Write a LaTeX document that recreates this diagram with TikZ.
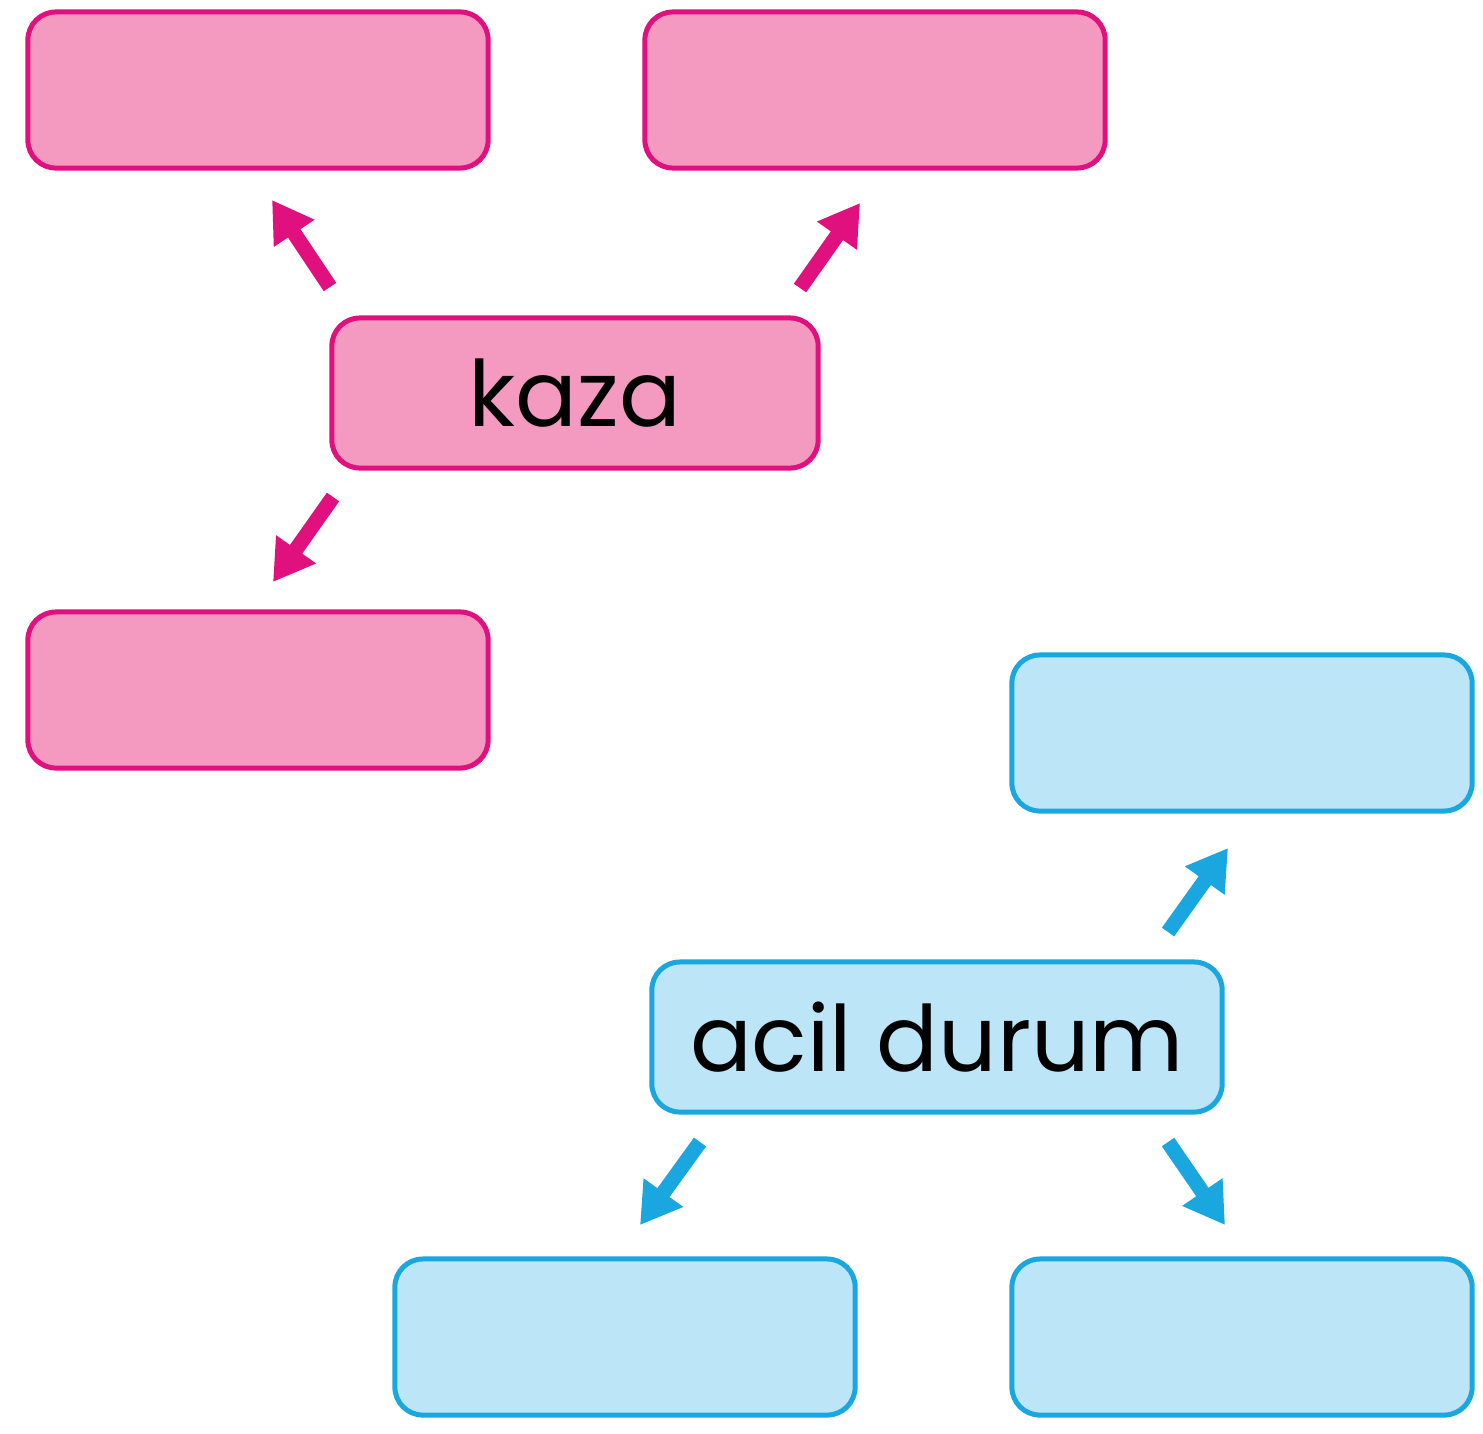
\documentclass[tikz,border=0pt]{standalone}
\usepackage{fontspec}
\setmainfont{Poppins}
\usetikzlibrary{arrows.meta}
\definecolor{pinkfill}{HTML}{F49AC1}
\definecolor{pinkline}{HTML}{E0117F}
\definecolor{bluefill}{HTML}{BDE5F8}
\definecolor{blueline}{HTML}{1AA7DF}
\tikzset{
  pinkbox/.style={draw=pinkline, fill=pinkfill, line width=0.05cm, rounded corners=0.28cm, inner sep=0pt},
  bluebox/.style={draw=bluefill!0!blueline, fill=bluefill, line width=0.05cm, rounded corners=0.28cm, inner sep=0pt},
  smallbox/.style={minimum width=4.6cm, minimum height=1.56cm},
  lbl/.style={font=\fontsize{26}{30}\selectfont, text=black},
  pinkarrow/.style={draw=pinkline, line width=0.15cm, -{Triangle[width=0.46cm,length=0.4cm]}},
  bluearrow/.style={draw=blueline, line width=0.15cm, -{Triangle[width=0.46cm,length=0.4cm]}}
}
\begin{document}
\begin{tikzpicture}[x=0.01cm,y=-0.01cm]
\useasboundingbox[fill=white] (0,0) rectangle (1483,1433);
% pink group
\node[pinkbox, smallbox] (p1) at (258,90) {};
\node[pinkbox, smallbox] (p2) at (875,90) {};
\node[pinkbox, smallbox] (p3) at (258,690) {};
\node[pinkbox, minimum width=4.86cm, minimum height=1.5cm, lbl] (kaza) at (575,393) {kaza};
% blue group
\node[bluebox, smallbox] (b1) at (1242,733) {};
\node[bluebox, smallbox] (b2) at (625,1337) {};
\node[bluebox, smallbox] (b3) at (1242,1337) {};
\node[bluebox, minimum width=5.7cm, minimum height=1.5cm, lbl] (acil) at (937,1037) {acil durum};
% arrow ends
\coordinate (k1s) at (330,287); \coordinate (k1e) at (272,200);
\coordinate (k2s) at (800,288); \coordinate (k2e) at (860,203);
\coordinate (k3s) at (333,497); \coordinate (k3e) at (273,582);
\coordinate (a1s) at (1168,932); \coordinate (a1e) at (1228,848);
\coordinate (a2s) at (700,1142); \coordinate (a2e) at (640,1225);
\coordinate (a3s) at (1168,1142); \coordinate (a3e) at (1225,1225);
\draw[pinkarrow] (k1s) -- (k1e);
\draw[pinkarrow] (k2s) -- (k2e);
\draw[pinkarrow] (k3s) -- (k3e);
\draw[bluearrow] (a1s) -- (a1e);
\draw[bluearrow] (a2s) -- (a2e);
\draw[bluearrow] (a3s) -- (a3e);
\end{tikzpicture}
\end{document}
